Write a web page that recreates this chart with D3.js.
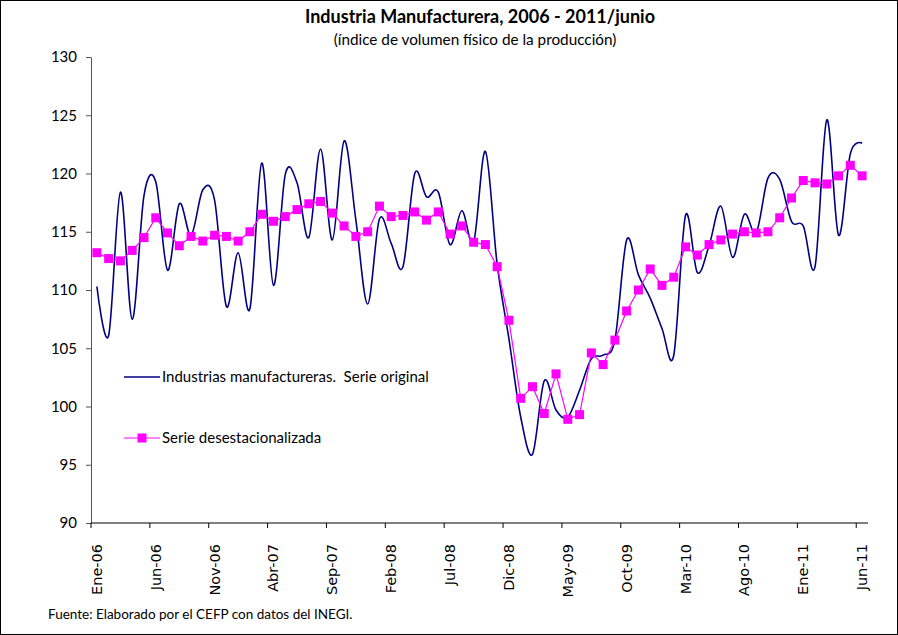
<!DOCTYPE html>
<html>
<head>
<meta charset="utf-8">
<script src="https://cdn.jsdelivr.net/npm/d3@7"></script>
<style>
  body { margin: 0; background: #fff; }
  svg { display: block; }
</style>
</head>
<body>
<svg id="chart"></svg>
<script>
// months shown on the category axis (Ene-06 .. Jun-11)
const months = [
  'Ene-06','Feb-06','Mar-06','Abr-06','May-06','Jun-06','Jul-06','Ago-06','Sep-06','Oct-06','Nov-06','Dic-06',
  'Ene-07','Feb-07','Mar-07','Abr-07','May-07','Jun-07','Jul-07','Ago-07','Sep-07','Oct-07','Nov-07','Dic-07',
  'Ene-08','Feb-08','Mar-08','Abr-08','May-08','Jun-08','Jul-08','Ago-08','Sep-08','Oct-08','Nov-08','Dic-08',
  'Ene-09','Feb-09','Mar-09','Abr-09','May-09','Jun-09','Jul-09','Ago-09','Sep-09','Oct-09','Nov-09','Dic-09',
  'Ene-10','Feb-10','Mar-10','Abr-10','May-10','Jun-10','Jul-10','Ago-10','Sep-10','Oct-10','Nov-10','Dic-10',
  'Ene-11','Feb-11','Mar-11','Abr-11','May-11','Jun-11'
];

// Serie original
const original = [
  110.3, 106.1, 118.4, 107.5, 118.1, 119.3, 111.7, 117.4, 114.7, 118.6, 117.7, 108.6,
  113.2, 108.4, 120.9, 110.4, 119.9, 119.2, 114.5, 122.1, 114.3, 122.8, 116.0, 108.8,
  116.1, 114.0, 112.0, 120.0, 118.0, 118.4, 113.9, 116.8, 114.1, 121.9, 112.2, 105.8,
  99.1, 95.9, 102.2, 99.7, 99.1, 101.4, 104.1, 104.4, 105.7, 114.3, 111.3, 109.3,
  106.7, 104.4, 116.4, 111.5, 113.8, 117.2, 112.8, 116.5, 114.9, 119.6, 119.5, 115.9,
  115.5, 112.0, 124.6, 114.7, 121.7, 122.6
];

// Serie desestacionalizada
const desest = [
  113.2, 112.7, 112.5, 113.4, 114.5, 116.2, 114.9, 113.8, 114.6, 114.2, 114.7, 114.6,
  114.2, 115.0, 116.5, 115.9, 116.3, 116.9, 117.4, 117.6, 116.6, 115.5, 114.6, 115.0,
  117.2, 116.3, 116.4, 116.7, 116.0, 116.7, 114.8, 115.5, 114.1, 113.9, 112.0, 107.4,
  100.7, 101.7, 99.4, 102.8, 98.9, 99.3, 104.6, 103.6, 105.7, 108.2, 110.0, 111.8,
  110.4, 111.1, 113.7, 113.0, 113.9, 114.3, 114.8, 115.0, 114.9, 115.0, 116.2, 117.9,
  119.4, 119.2, 119.1, 119.8, 120.7, 119.8
];

const tickLabels = ['Ene-06','Jun-06','Nov-06','Abr-07','Sep-07','Feb-08','Jul-08',
  'Dic-08','May-09','Oct-09','Mar-10','Ago-10','Ene-11','Jun-11'];
const yTicks = [90, 95, 100, 105, 110, 115, 120, 125, 130];

const width = 898, height = 635;
const plot = { left: 91, right: 868, top: 57, bottom: 523 };
const font = 'Lato, "Open Sans", sans-serif';

const svg = d3.select('#chart')
  .attr('width', width)
  .attr('height', height)
  .style('font-family', font);

// border of the chart area
svg.append('rect')
  .attr('x', 0.5).attr('y', 0.5)
  .attr('width', width - 1).attr('height', height - 1)
  .attr('fill', '#fff').attr('stroke', '#000');

// scales
const x = d3.scalePoint().domain(months).range([plot.left, plot.right]).padding(0.5);
const y = d3.scaleLinear().domain([90, 130]).range([plot.bottom, plot.top]);
const step = x.step();

// titles
svg.append('text')
  .attr('x', 480).attr('y', 23)
  .attr('text-anchor', 'middle')
  .attr('font-weight', 'bold')
  .attr('font-size', 18)
  .text('Industria Manufacturera, 2006 - 2011/junio');

svg.append('text')
  .attr('x', 475).attr('y', 45)
  .attr('text-anchor', 'middle')
  .attr('font-size', 15.3)
  .text('(índice de volumen físico de la producción)');

// y axis
const yAxis = svg.append('g')
  .attr('transform', `translate(${plot.left},0)`)
  .call(d3.axisLeft(y).tickValues(yTicks).tickSize(5).tickSizeOuter(0).tickPadding(9));
yAxis.select('.domain').attr('stroke', '#555');
yAxis.selectAll('.tick line').attr('stroke', '#555');
yAxis.selectAll('.tick text')
  .attr('font-family', font)
  .attr('font-size', 15)
  .attr('fill', '#000');

// x axis: ticks on category boundaries, labels centred on categories
const xg = svg.append('g').attr('transform', `translate(0,${plot.bottom})`);
xg.append('line')
  .attr('x1', plot.left).attr('x2', plot.right)
  .attr('stroke', '#000').attr('stroke-width', 1.2);
xg.selectAll('line.tk')
  .data(tickLabels)
  .join('line')
  .attr('class', 'tk')
  .attr('x1', d => x(d) - step / 2).attr('x2', d => x(d) - step / 2)
  .attr('y1', 0).attr('y2', 5)
  .attr('stroke', '#000');
xg.selectAll('text')
  .data(tickLabels)
  .join('text')
  .attr('transform', d => `translate(${x(d) + 5},21) rotate(-90)`)
  .attr('text-anchor', 'end')
  .attr('font-family', 'DejaVu Sans, sans-serif')
  .attr('font-size', 14.5)
  .text(d => d);

// serie original (smoothed)
const lineOrig = d3.line()
  .x((d, i) => x(months[i]))
  .y(d => y(d))
  .curve(d3.curveCardinal.tension(0));

svg.append('path')
  .datum(original)
  .attr('fill', 'none')
  .attr('stroke', '#000080')
  .attr('stroke-width', 1.6)
  .attr('d', lineOrig);

// serie desestacionalizada
const lineDes = d3.line()
  .x((d, i) => x(months[i]))
  .y(d => y(d));

svg.append('path')
  .datum(desest)
  .attr('fill', 'none')
  .attr('stroke', '#ff00ff')
  .attr('stroke-width', 1.2)
  .attr('d', lineDes);

svg.append('g')
  .selectAll('rect')
  .data(desest)
  .join('rect')
  .attr('x', (d, i) => x(months[i]) - 4.5)
  .attr('y', d => y(d) - 4.5)
  .attr('width', 9).attr('height', 9)
  .attr('fill', '#ff00ff');

// legend
const legend = svg.append('g');
legend.append('line')
  .attr('x1', 124).attr('x2', 160).attr('y1', 377).attr('y2', 377)
  .attr('stroke', '#000080').attr('stroke-width', 1.6);
legend.append('text')
  .attr('x', 162).attr('y', 382)
  .attr('font-size', 15)
  .attr('xml:space', 'preserve')
  .text('Industrias manufactureras.  Serie original');

legend.append('line')
  .attr('x1', 124).attr('x2', 160).attr('y1', 438).attr('y2', 438)
  .attr('stroke', '#ff00ff').attr('stroke-width', 1.2);
legend.append('rect')
  .attr('x', 137.5).attr('y', 433.5).attr('width', 9).attr('height', 9)
  .attr('fill', '#ff00ff');
legend.append('text')
  .attr('x', 162).attr('y', 443)
  .attr('font-size', 15)
  .text('Serie desestacionalizada');

// source
svg.append('text')
  .attr('x', 48).attr('y', 619)
  .attr('font-size', 13.5)
  .text('Fuente: Elaborado por el CEFP con datos del INEGI.');
</script>
</body>
</html>
